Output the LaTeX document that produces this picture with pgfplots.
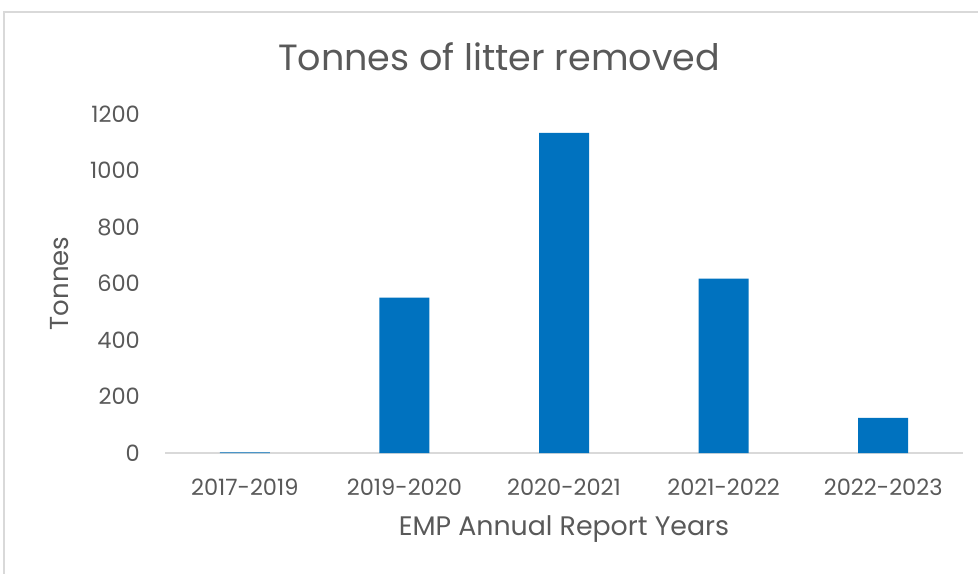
\documentclass[border=0pt]{standalone}
\usepackage{pgfplots}
\pgfplotsset{compat=1.18}
\usepackage{fontspec}
\setmainfont{Poppins}
\definecolor{txt}{HTML}{595959}
\definecolor{barblue}{HTML}{0072BF}
\definecolor{axgray}{HTML}{D9D9D9}
\definecolor{frame}{HTML}{D9D9D9}
\begin{document}
\begin{tikzpicture}[x=1bp,y=-1bp]
\useasboundingbox (0,0) rectangle (978,574);
\draw[frame, line width=1.2bp] (4,600) -- (4,12) -- (1000,12);
\begin{axis}[
  at={(165bp,-453bp)}, anchor=south west,
  scale only axis, width=798bp, height=339bp,
  xmin=-0.5, xmax=4.5, ymin=0, ymax=1200,
  ytick={0,200,400,600,800,1000,1200},
  xtick={0,1,2,3,4},
  xticklabels={2017-2019,2019-2020,2020-2021,2021-2022,2022-2023},
  axis x line*=bottom, axis y line*=left,
  x axis line style={axgray, line width=1.2bp, -},
  y axis line style={draw=none},
  major tick length=0,
  /pgf/number format/assume math mode=true,
  /pgf/number format/1000 sep={},
  tick label style={font=\fontsize{22.5bp}{26bp}\selectfont, text=txt},
  yticklabel style={anchor=east, inner sep=0pt, xshift=-25bp},
  xticklabel style={anchor=center, inner sep=0pt, yshift=-34bp},
  title={Tonnes of litter removed},
  title style={font=\fontsize{36.5bp}{42bp}\selectfont, text=txt, at={(axis description cs:0.5,1)}, anchor=center, yshift=51bp, xshift=-65bp},
  xlabel={EMP Annual Report Years},
  xlabel style={font=\fontsize{26.8bp}{30bp}\selectfont, text=txt, at={(axis description cs:0.5,0)}, anchor=center, yshift=-76bp},
  ylabel={Tonnes},
  ylabel style={font=\fontsize{26bp}{30bp}\selectfont, text=txt, at={(axis description cs:0,0.5)}, anchor=center, yshift=105bp},
  ybar, bar width=50bp,
  clip=false,
]
\addplot[fill=barblue, draw=none] coordinates {(0,2) (1,550) (2,1133) (3,617) (4,124)};
\end{axis}
\end{tikzpicture}
\end{document}
